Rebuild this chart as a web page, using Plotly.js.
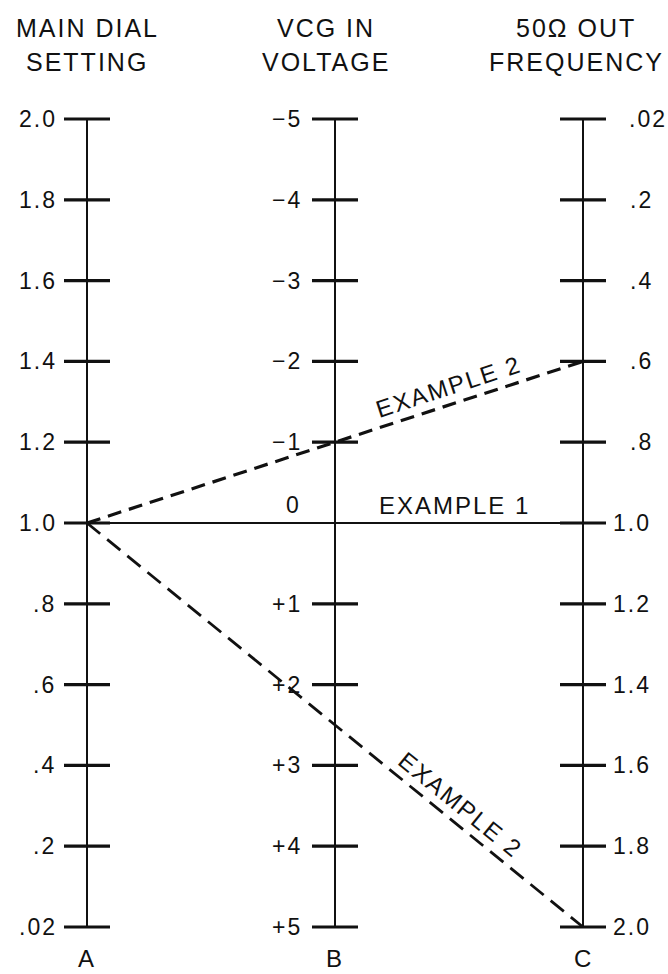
<!DOCTYPE html>
<html><head><meta charset="utf-8">
<script src="https://cdn.plot.ly/plotly-3.0.1.min.js"></script>
<style>html,body{margin:0;padding:0;background:#fff}#chart text{letter-spacing:2px}</style>
</head><body>
<div id="chart" style="width:668px;height:974px"></div>
<script>
// ---- data ----
const axisNames = ["A", "B", "C"];
const axisTitleTop = ["MAIN DIAL", "VCG IN", "50\u03A9 OUT"];
const axisTitleBottom = ["SETTING", "VOLTAGE", "FREQUENCY"];
const aValues = [2.0, 1.8, 1.6, 1.4, 1.2, 1.0, 0.8, 0.6, 0.4, 0.2, 0.02];
const aLabels = ["2.0", "1.8", "1.6", "1.4", "1.2", "1.0", ".8", ".6", ".4", ".2", ".02"];
const bValues = [-5, -4, -3, -2, -1, 0, 1, 2, 3, 4, 5];
const bLabels = ["\u22125", "\u22124", "\u22123", "\u22122", "\u22121", "0", "+1", "+2", "+3", "+4", "+5"];
const cValues = [0.02, 0.2, 0.4, 0.6, 0.8, 1.0, 1.2, 1.4, 1.6, 1.8, 2.0];
const cLabels = [".02", ".2", ".4", ".6", ".8", "1.0", "1.2", "1.4", "1.6", "1.8", "2.0"];
const exampleNames = ["EXAMPLE 1", "EXAMPLE 2", "EXAMPLE 2"];
const exampleA = [1.0, 1.0, 1.0];
const exampleC = [1.0, 0.6, 2.0];

// ---- geometry / style ----
const W = 668, H = 974;
const AX = 87, CX = 583, UNIT = (CX - AX) / 2;     // px per axis unit
const YTOP = 119, YBOT = 927, STEP = (YBOT - YTOP) / 10;
const FONT = '"Liberation Sans", Arial, Helvetica, sans-serif';
const INK = '#111';
const TICK_HALF = 23 / UNIT;

const px = x => AX + x * UNIT;
const py = i => YTOP + i * STEP;
const idxOf = (arr, v) => arr.findIndex(a => Math.abs(a - v) < 1e-9);

const scales = [
  {values: aValues, labels: aLabels},
  {values: bValues, labels: bLabels},
  {values: cValues, labels: cLabels}
];

const traces = [];
// axis lines
const axX = [], axY = [];
scales.forEach((s, k) => { axX.push(k, k, null); axY.push(0, s.values.length - 1, null); });
traces.push({x: axX, y: axY, mode: 'lines', line: {color: INK, width: 2}, hoverinfo: 'skip'});
// ticks
const tkX = [], tkY = [];
scales.forEach((s, k) => {
  s.values.forEach((v, i) => {
    if (k === 1 && v === 0) return; // zero on B lies on example line
    tkX.push(k - TICK_HALF, k + TICK_HALF, null); tkY.push(i, i, null);
  });
});
traces.push({x: tkX, y: tkY, mode: 'lines', line: {color: INK, width: 3.2}, hoverinfo: 'skip'});

// example lines
const exStyles = [
  {width: 2.2, dash: 'solid'},
  {width: 3.2, dash: '14px,8px'},
  {width: 2.8, dash: '17px,9px'}
];
const annotations = [];
exampleNames.forEach((name, e) => {
  const ia = idxOf(aValues, exampleA[e]);
  const ic = idxOf(cValues, exampleC[e]);
  traces.push({x: [0, 2], y: [ia, ic], mode: 'lines',
    line: {color: INK, width: exStyles[e].width, dash: exStyles[e].dash}, hoverinfo: 'skip'});
  const t = e === 2 ? 0.73 : 0.74;
  const dxp = px(2) - px(0), dyp = py(ic) - py(ia);
  const len = Math.hypot(dxp, dyp);
  const nx = dyp / len, ny = -dxp / len;
  const off = 17.5;
  annotations.push({
    x: 2 * t, y: ia + (ic - ia) * t, xref: 'x', yref: 'y', text: name, showarrow: false,
    textangle: Math.atan2(dyp, dxp) * 180 / Math.PI,
    xshift: nx * off, yshift: -ny * off,
    font: {family: FONT, size: 24, color: INK}, xanchor: 'center', yanchor: 'middle'
  });
});

// tick labels
scales.forEach((s, k) => {
  s.labels.forEach((lab, i) => {
    let a = {x: k, y: i, xref: 'x', yref: 'y', text: lab, showarrow: false,
      font: {family: FONT, size: 23, color: INK}, yanchor: 'middle'};
    if (k === 0) { a.xanchor = 'right'; a.xshift = -31; }
    else if (k === 1) { a.xanchor = 'right'; a.xshift = -33; if (s.values[i] === 0) a.yshift = 18; }
    else { a.xanchor = 'left'; a.xshift = lab.startsWith('.') ? 47 : 31; }
    annotations.push(a);
  });
});

// axis titles and letters
const titleShift = [0, -9, -7];
axisNames.forEach((n, k) => {
  annotations.push({x: k, y: 1 - 28 / H, xref: 'x', yref: 'paper', text: axisTitleTop[k], showarrow: false,
    xshift: titleShift[k], font: {family: FONT, size: 25, color: INK}, xanchor: 'center', yanchor: 'middle'});
  annotations.push({x: k, y: 1 - 62 / H, xref: 'x', yref: 'paper', text: axisTitleBottom[k], showarrow: false,
    xshift: titleShift[k], font: {family: FONT, size: 25, color: INK}, xanchor: 'center', yanchor: 'middle'});
  annotations.push({x: k, y: 1 - 958 / H, xref: 'x', yref: 'paper', text: n, showarrow: false,
    font: {family: FONT, size: 24, color: INK}, xanchor: 'center', yanchor: 'middle'});
});

const layout = {
  width: W, height: H, margin: {l: 0, r: 0, t: 0, b: 0},
  paper_bgcolor: '#fff', plot_bgcolor: '#fff', showlegend: false,
  xaxis: {range: [-AX / UNIT, (W - AX) / UNIT], visible: false, fixedrange: true},
  yaxis: {range: [(H - YTOP) / STEP, -YTOP / STEP], visible: false, fixedrange: true},
  annotations: annotations
};
Plotly.newPlot('chart', traces, layout, {staticPlot: true, displayModeBar: false});
</script>
</body></html>
